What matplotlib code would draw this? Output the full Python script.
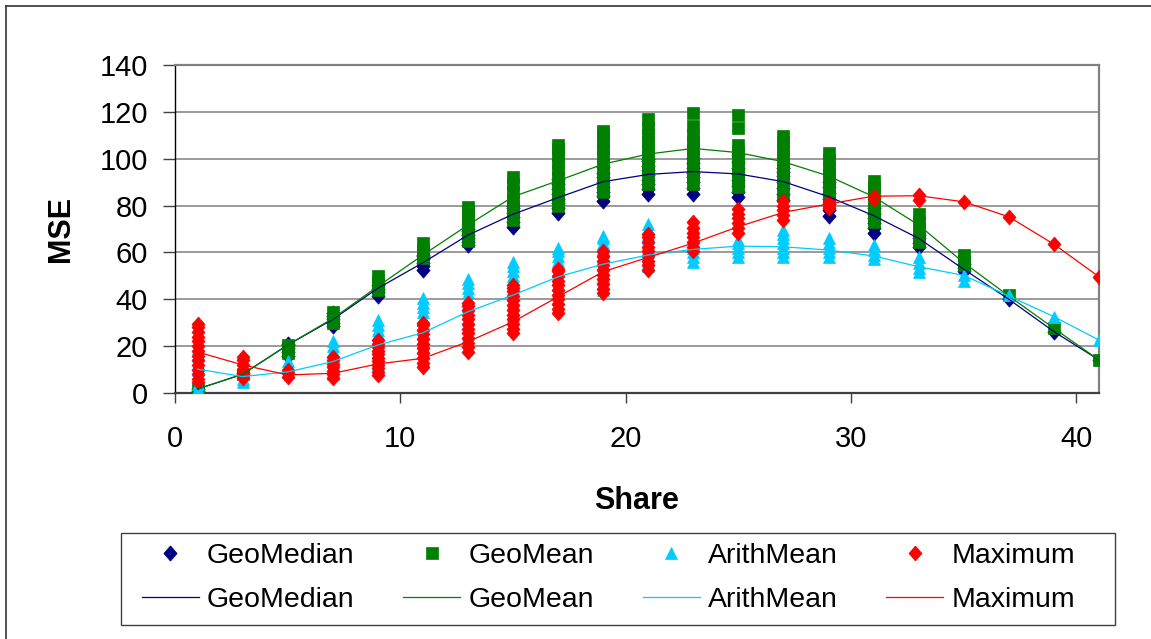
import matplotlib
matplotlib.use("Agg")
import matplotlib.pyplot as plt
from matplotlib.lines import Line2D
from matplotlib.patches import Rectangle

plt.rcParams["font.family"] = ["Liberation Sans", "DejaVu Sans"]

## ## share values on the x axis (odd shares only)
shares = [1, 3, 5, 7, 9, 11, 13, 15, 17, 19, 21, 23, 25, 27, 29, 31, 33, 35, 37, 39, 41]

## ## single runs, one list per share
geomedian_pts = [
    [0.8, 1.5], [7.5, 8.5], [16, 17.5, 19, 20.5, 21], [28.5, 30, 31.5, 33, 34],
    [41.5, 43, 44.5, 46], [52.5, 54, 55.5, 57, 58.5, 59], [63, 64.5, 66, 67.5, 69, 70],
    [71, 73, 75, 77, 79, 80], [77, 79, 81, 83, 85, 87, 89, 91.5],
    [82, 84, 86, 88, 90, 92, 94, 96.5], [85, 87, 89, 91, 93, 95, 97, 99, 100],
    [85, 87.5, 90, 92, 94, 96, 98, 100.5], [83.5, 86, 88.5, 91, 93.5, 96, 98.5, 101.5],
    [82.5, 85, 87.5, 90, 92.5, 94.5, 96], [75.5, 78, 80.5, 83, 85.5, 88, 90],
    [68.5, 70.5, 72.5, 74.5, 76.5, 79], [62.5, 64, 66, 67.5], [52, 53.5, 55],
    [40], [26.2], [14.1],
]
geomean_pts = [
    [1.5], [8], [17, 19, 20.5], [30, 32, 34.5], [44, 46, 48, 50],
    [57.5, 59.5, 61.5, 64], [65, 67.5, 70, 72.5, 75, 77.5, 79.5],
    [74, 77, 80, 83, 86, 89, 92], [80, 83, 86, 89, 92, 95, 98, 101, 104, 106],
    [86, 89, 92, 95, 98, 101, 104, 107, 110, 112],
    [89, 92, 95, 98, 101, 104, 107, 110, 113, 117],
    [89, 92, 95, 98, 101, 104, 107, 110, 114, 119.5],
    [88, 91, 94, 97, 100, 103, 106, 113, 118.5],
    [86, 89, 92, 95, 98, 101, 104, 107, 109.5],
    [81.5, 84.5, 87.5, 90.5, 93.5, 96.5, 99.5, 102.5],
    [73, 76, 79, 82, 85, 88, 90.5], [64.5, 67, 70, 73, 76.5], [54.5, 56.5, 59],
    [41.8], [27.6], [14.1],
]
arithmean_pts = [
    [1.5, 4, 7, 10, 13, 16, 19], [4.5, 6, 8, 10], [9, 11, 13.5],
    [8, 10, 12, 14, 16, 18, 20, 22],
    [10, 12.5, 15, 17.5, 20, 22.5, 25, 27, 29, 31],
    [14, 17, 20, 23, 26, 29, 32, 34.5, 36.5, 38.5, 40.5],
    [22, 25, 28, 31, 34, 37, 40, 42.5, 45, 47, 48.5],
    [30, 33, 36, 39, 42, 45, 47.5, 50, 52, 54, 56],
    [40, 43, 46, 49, 52, 54.5, 56.5, 58.5, 60.5, 62],
    [44, 47, 50, 53, 55.5, 58, 60, 62, 64, 66, 67],
    [54, 56, 58, 60, 62, 64, 66, 68, 70, 72],
    [56, 58, 60, 62, 64, 66], [58, 60, 62, 64, 65.5],
    [58, 60, 62, 64, 66, 68, 69.5], [58, 60, 62, 64, 66], [57, 59, 61, 63],
    [51.5, 53.5, 55.5, 58], [48, 50.5], [41.8], [32.6], [22.6],
]
maximum_pts = [
    [4.5, 6, 8, 10, 12, 14, 16, 18, 20, 22, 24, 26, 28, 29.5],
    [6.5, 8, 10, 12, 14, 15.5], [7, 8.5, 10], [6.5, 8, 9.5, 11, 12.5, 14, 15.5],
    [7.5, 9, 10.5, 12, 13.5, 15, 16.5, 18, 19.5, 21, 22.5],
    [11, 13, 15, 17, 19, 21, 23, 25, 27, 29, 30],
    [17.5, 19.5, 21.5, 23.5, 25.5, 27.5, 29.5, 31.5, 33.5, 35.5, 37, 38.5],
    [25.5, 27.5, 29.5, 31.5, 33.5, 35.5, 37.5, 39.5, 41.5, 43.5, 45, 46],
    [34, 36, 38, 40, 42, 44, 46, 48, 50, 52, 53],
    [42.5, 44.5, 46.5, 48.5, 50.5, 52.5, 54.5, 56.5, 58.5, 60.5],
    [52.5, 54.5, 56.5, 58.5, 60.5, 62.5, 64.5, 66.5, 68],
    [60.5, 62.5, 64.5, 66.5, 68.5, 70.5, 73],
    [68.5, 70.5, 72.5, 74.5, 76.5, 78.5], [74, 76, 78, 80, 82], [79, 80.5, 81.5],
    [83, 84], [82.5, 84.5], [81.6], [75.2], [63.5], [49.6],
]

## ## averaged curves
geomedian_line = [1.7, 8, 20.5, 31.4, 44.7, 55.6, 67.4, 76.3, 83.4, 90.2, 93.3,
                  94.5, 93.5, 90.2, 83.8, 75.7, 66, 52.8, 40, 26.2, 14.1]
geomean_line = [1.7, 8, 20.5, 31.8, 45.5, 58.9, 71.7, 83.8, 90.6, 97.7, 102,
                104.4, 102.6, 98.7, 92.6, 83.8, 71.7, 55.6, 41.4, 27.6, 14.1]
arithmean_line = [10.2, 7, 9, 13.4, 20.5, 25.7, 34.7, 41.8, 49.6, 55, 58.9,
                  61.3, 62.7, 62.4, 61, 58.5, 53.9, 50.2, 41.4, 32.6, 22.6]
maximum_line = [17.5, 12, 7.7, 8.4, 12.4, 14.8, 21.9, 30.4, 41.1, 51.8, 57.9,
                64, 71, 77.1, 80.7, 84, 84.2, 81.6, 75.2, 63.5, 49.6]

names = ["GeoMedian", "GeoMean", "ArithMean", "Maximum"]
colors = ["#000080", "#008000", "#00CCFF", "#FF0000"]
diamond = [(0, 1), (0.87, 0), (0, -1), (-0.87, 0), (0, 1)]
markers = [diamond, "s", "^", diamond]
msizes = [11, 8.3, 9, 10.8]

W, H = 1151, 639
fig = plt.figure(figsize=(W / 100, H / 100), dpi=100)
ax = fig.add_axes([175 / W, 1 - 393 / H, 924 / W, 328 / H])

## ## outer chart frame (top and left edges)
fig.add_artist(Line2D([5.5 / W, 1], [1 - 5.5 / H, 1 - 5.5 / H],
                      transform=fig.transFigure, color="#333333", lw=1.2))
fig.add_artist(Line2D([5.5 / W, 5.5 / W], [0, 1 - 5.5 / H],
                      transform=fig.transFigure, color="#333333", lw=1.2))

point_handles = []
line_handles = []
for i, pts in enumerate([geomedian_pts, geomean_pts, arithmean_pts, maximum_pts]):
    xs = []
    ys = []
    for s, vals in zip(shares, pts):
        xs += [s] * len(vals)
        ys += vals
    h, = ax.plot(xs, ys, linestyle="none", marker=markers[i], ms=msizes[i],
                 color=colors[i], mec=colors[i], mew=0.5, zorder=2 + i, label=names[i])
    point_handles.append(h)

for i, line in enumerate([geomedian_line, geomean_line, arithmean_line, maximum_line]):
    h, = ax.plot(shares, line, color=colors[i], lw=0.9, zorder=7, label=names[i])
    line_handles.append(h)

ax.set_xlim(0, 41)
ax.set_ylim(0, 140)
ax.set_xticks([0, 10, 20, 30, 40])
ax.set_yticks(range(0, 141, 20))
ax.yaxis.grid(True, color="#808080", lw=1.1)
ax.set_axisbelow(True)
ax.tick_params(axis="both", labelsize=21, direction="out", color="#404040")
ax.tick_params(axis="y", length=8.5, width=1, pad=11)
ax.tick_params(axis="x", length=7, width=1, pad=16)

ax.spines["left"].set_color("black")
ax.spines["left"].set_linewidth(1.0)
ax.spines["bottom"].set_color("#404040")
ax.spines["bottom"].set_linewidth(1.6)
for side in ["top", "right"]:
    ax.spines[side].set_color("#808080")
    ax.spines[side].set_linewidth(1.6)

ax.set_xlabel("Share", fontsize=22, fontweight="bold")
ax.set_ylabel("MSE", fontsize=22, fontweight="bold")
ax.xaxis.set_label_coords(0.5, -0.285)
ax.yaxis.set_label_coords(-0.107, 0.5)

## ## legend: markers in the first row, curves in the second
handles = []
labels = []
for p, l, n in zip(point_handles, line_handles, names):
    handles += [p, l]
    labels += [n, n]
leg = ax.legend(handles, labels, ncol=4, loc="upper left",
                bbox_to_anchor=(142 / W, 1 - 632 / H, 933 / W, 89 / H),
                bbox_transform=fig.transFigure, mode="expand", fontsize=20.5,
                frameon=False, borderaxespad=0, borderpad=0,
                handlelength=2.0, handletextpad=0.28, labelspacing=0.63,
                numpoints=1)
fig.add_artist(Rectangle((120.5 / W, 1 - 624.5 / H), 994 / W, 92 / H,
                         transform=fig.transFigure, fill=False,
                         edgecolor="#404040", lw=1.0))

plt.savefig("out.png", dpi=100)
